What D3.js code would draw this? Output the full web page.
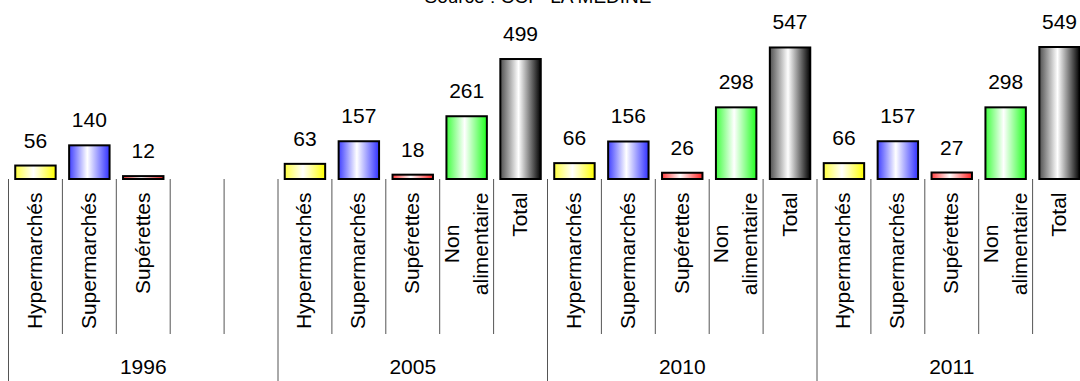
<!DOCTYPE html>
<html>
<head>
<meta charset="utf-8">
<script src="https://cdn.jsdelivr.net/npm/d3@7/dist/d3.min.js"></script>
<style>
  html, body { margin: 0; padding: 0; background: #fff; }
  svg { display: block; }
  text { font-family: "Liberation Sans", Arial, sans-serif; fill: #000; }
</style>
</head>
<body>
<svg id="chart" width="1080" height="381"></svg>
<script>
// ---- Data ----
const years = ["1996", "2005", "2010", "2011"];
const categories = ["Hypermarchés", "Supermarchés", "Supérettes", "Non alimentaire", "Total"];
const categoryLines = [["Hypermarchés"], ["Supermarchés"], ["Supérettes"], ["Non", "alimentaire"], ["Total"]];
const values1996 = [56, 140, 12, null, null];
const values2005 = [63, 157, 18, 261, 499];
const values2010 = [66, 156, 26, 298, 547];
const values2011 = [66, 157, 27, 298, 549];
const seriesValues = [values1996, values2005, values2010, values2011];
const sourceText = "Source : CCI - LA MEDINE";

// ---- Styles ----
const gradients = [
  { id: "gY", stops: ["#ffff40", "#ffffff", "#ffff00"] },
  { id: "gB", stops: ["#4040ff", "#ffffff", "#3030ff"] },
  { id: "gR", stops: ["#ff4040", "#ffffff", "#ff2020"] },
  { id: "gG", stops: ["#40ff40", "#ffffff", "#20ff20"] },
  { id: "gK", stops: ["#505050", "#ffffff", "#000000"] }
];

const svg = d3.select("#chart");
const defs = svg.append("defs");
gradients.forEach(g => {
  const lg = defs.append("linearGradient").attr("id", g.id)
    .attr("x1", "0").attr("y1", "0").attr("x2", "1").attr("y2", "0");
  lg.append("stop").attr("offset", "0").attr("stop-color", g.stops[0]);
  lg.append("stop").attr("offset", "0.45").attr("stop-color", g.stops[1]);
  lg.append("stop").attr("offset", "1").attr("stop-color", g.stops[2]);
});

// ---- Build slots ----
const slots = [];
years.forEach((yr, gi) => {
  categories.forEach((cat, ci) => {
    const v = seriesValues[gi][ci];
    slots.push({ id: gi * categories.length + ci, year: yr, gi, ci, cat,
                 lines: v === null ? [] : categoryLines[ci], value: v });
  });
});

const x0 = 8.5, x1 = 1086.5;
const x = d3.scaleBand().domain(slots.map(d => d.id)).range([x0, x1])
  .paddingInner(0.25).paddingOuter(0.125);
const step = x.step();
const baseY = 179;
const y = d3.scaleLinear().domain([0, 549]).range([baseY, 47]);

// ---- Title (clipped at top, as in the source) ----
svg.append("text").attr("x", 538).attr("y", 3).attr("text-anchor", "middle")
  .style("font-size", "19px").text(sourceText);

// ---- Bars ----
const barData = slots.filter(d => d.value !== null);
svg.append("g").selectAll("rect").data(barData).join("rect")
  .attr("x", d => x(d.id))
  .attr("width", x.bandwidth())
  .attr("y", d => y(d.value))
  .attr("height", d => baseY - y(d.value))
  .attr("fill", d => `url(#${gradients[d.ci].id})`)
  .attr("stroke", "#000").attr("stroke-width", 2);

// ---- Value labels ----
svg.append("g").selectAll("text").data(barData).join("text")
  .attr("x", d => x(d.id) + x.bandwidth() / 2)
  .attr("y", d => y(d.value) - 18)
  .attr("text-anchor", "middle")
  .style("font-size", "21px")
  .text(d => d.value);

// ---- Category separators ----
const bounds = d3.range(slots.length + 1).map(i => x0 + i * step);
svg.append("g").selectAll("line").data(bounds).join("line")
  .attr("x1", d => d).attr("x2", d => d)
  .attr("y1", baseY).attr("y2", (d, i) => (i % categories.length === 0) ? 381 : 334)
  .attr("stroke", "#555").attr("stroke-width", 1);

// ---- Category labels (rotated) ----
const labelTop = 192.5;
const lineGap = 29;
const labG = svg.append("g");
slots.forEach(d => {
  if (!d.lines.length) return;
  const cx = x0 + (d.id + 0.5) * step;
  const g = labG.append("g").attr("transform", `translate(${cx},${labelTop}) rotate(-90)`);
  const n = d.lines.length;
  const texts = d.lines.map((ln, i) =>
    g.append("text").attr("y", 6.5 + (i - (n - 1) / 2) * lineGap)
      .attr("text-anchor", "middle").style("font-size", "21px").text(ln));
  const maxL = d3.max(texts, t => t.node().getComputedTextLength());
  texts.forEach(t => t.attr("x", -maxL / 2));
});

// ---- Year labels ----
svg.append("g").selectAll("text").data(years).join("text")
  .attr("x", (d, i) => x0 + (i * categories.length + categories.length / 2) * step)
  .attr("y", 373.5)
  .attr("text-anchor", "middle")
  .style("font-size", "21px")
  .text(d => d);
</script>
</body>
</html>
